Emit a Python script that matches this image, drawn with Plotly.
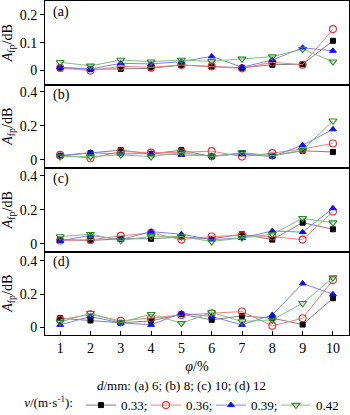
import plotly.graph_objects as go
from plotly.subplots import make_subplots

phi = [1, 2, 3, 4, 5, 6, 7, 8, 9, 10]
speeds = ["0.33;", "0.36;", "0.39;", "0.42"]
panels = ["(a)", "(b)", "(c)", "(d)"]

# panel (a) d=6 mm
a_033 = [0.008, 0.005, 0.006, 0.008, 0.020, 0.016, 0.010, 0.021, 0.023, 0.107]
a_036 = [0.010, 0.000, 0.015, 0.012, 0.020, 0.015, 0.008, 0.030, 0.021, 0.149]
a_039 = [0.012, 0.006, 0.026, 0.024, 0.032, 0.051, 0.012, 0.038, 0.082, 0.071]
a_042 = [0.030, 0.017, 0.038, 0.032, 0.038, 0.033, 0.042, 0.050, 0.077, 0.032]
# panel (b) d=8 mm
b_033 = [0.025, 0.040, 0.058, 0.035, 0.058, 0.020, 0.040, 0.025, 0.054, 0.047]
b_036 = [0.030, 0.010, 0.050, 0.043, 0.045, 0.052, 0.020, 0.040, 0.065, 0.097]
b_039 = [0.025, 0.043, 0.035, 0.038, 0.030, 0.025, 0.035, 0.020, 0.087, 0.180]
b_042 = [0.020, 0.020, 0.030, 0.020, 0.043, 0.020, 0.043, 0.025, 0.058, 0.230]
# panel (c) d=10 mm
c_033 = [0.025, 0.020, 0.030, 0.030, 0.040, 0.030, 0.057, 0.025, 0.125, 0.086]
c_036 = [0.020, 0.024, 0.047, 0.065, 0.025, 0.043, 0.050, 0.043, 0.025, 0.190]
c_039 = [0.018, 0.050, 0.025, 0.072, 0.057, 0.025, 0.035, 0.076, 0.069, 0.210]
c_042 = [0.043, 0.057, 0.020, 0.045, 0.043, 0.014, 0.035, 0.057, 0.150, 0.125]
# panel (d) d=12 mm
d_033 = [0.056, 0.042, 0.028, 0.040, 0.080, 0.046, 0.070, 0.056, 0.018, 0.176]
d_036 = [0.046, 0.080, 0.040, 0.056, 0.075, 0.086, 0.096, 0.010, 0.056, 0.285]
d_039 = [0.016, 0.066, 0.028, 0.016, 0.086, 0.066, 0.016, 0.076, 0.265, 0.200]
d_042 = [0.033, 0.086, 0.030, 0.080, 0.026, 0.090, 0.036, 0.046, 0.146, 0.300]

data = [
    [a_033, a_036, a_039, a_042],
    [b_033, b_036, b_039, b_042],
    [c_033, c_036, c_039, c_042],
    [d_033, d_036, d_039, d_042],
]

line_colors = ["#7f7f7f", "#f08080", "#8080f0", "#80c080"]
marker_styles = [
    dict(symbol="square", size=5, color="black", line=dict(color="black", width=1)),
    dict(symbol="circle-open", size=7, color="#e03030", line=dict(color="#e03030", width=1.1)),
    dict(symbol="triangle-up", size=6, color="#1010e0", line=dict(color="#1010e0", width=1)),
    dict(symbol="triangle-down-open", size=7, color="#2a8a2a", line=dict(color="#2a8a2a", width=1.1)),
]

fig = make_subplots(rows=4, cols=1, shared_xaxes=True, vertical_spacing=0)

for r in range(4):
    for k in range(4):
        fig.add_trace(go.Scatter(
            x=phi, y=data[r][k], mode="lines+markers", name=speeds[k],
            line=dict(color=line_colors[k], width=1),
            marker=marker_styles[k], showlegend=(r == 0),
        ), row=r + 1, col=1)

font_family = "Liberation Serif"
yranges = [[-0.05, 0.25], [-0.047, 0.443], [-0.045, 0.447], [-0.045, 0.457]]
ytickvals = [[0, 0.1, 0.2], [0, 0.2, 0.4], [0, 0.2, 0.4], [0, 0.2, 0.4]]
ytext = [["0", "0.1", "0.2"], ["0", "0.2", "0.4"], ["0", "0.2", "0.4"], ["0", "0.2", "0.4"]]

for r in range(4):
    fig.update_yaxes(
        row=r + 1, col=1, range=yranges[r], tickvals=ytickvals[r], ticktext=ytext[r],
        ticks="outside", ticklen=4, tickcolor="black", showline=True, linecolor="black",
        linewidth=1, mirror=True, showgrid=False, zeroline=False,
        title=dict(text="<i>A</i><sub>fp</sub>/dB", standoff=4, font=dict(size=14, family=font_family)),
        tickfont=dict(size=14, family=font_family),
    )
    fig.update_xaxes(
        row=r + 1, col=1, range=[0.5, 10.53], tickvals=phi,
        ticks="inside" if r == 3 else "", ticklen=4, tickcolor="black",
        showline=True, linecolor="black", linewidth=1, mirror=True,
        showgrid=False, zeroline=False, showticklabels=(r == 3),
        tickfont=dict(size=14, family=font_family),
    )
    fig.add_annotation(
        text=panels[r], xref=f"x{'' if r == 0 else r + 1} domain", yref=f"y{'' if r == 0 else r + 1} domain",
        x=0.02, y=0.99, xanchor="left", yanchor="top", showarrow=False,
        font=dict(size=14, family=font_family),
    )

fig.update_xaxes(row=4, col=1, title=dict(text="<i>φ</i>/%", standoff=6, font=dict(size=14, family=font_family)))

fig.add_annotation(
    text="<i>d</i>/mm: (a) 6; (b) 8; (c) 10; (d) 12", xref="paper", yref="paper",
    x=0.45, y=-0.15, xanchor="center", yanchor="middle", showarrow=False,
    font=dict(size=13, family=font_family),
)

fig.update_layout(
    width=350, height=415,
    margin=dict(l=45, r=1, t=1, b=80, autoexpand=False),
    paper_bgcolor="white", plot_bgcolor="white",
    font=dict(family=font_family, color="black", size=13),
    legend=dict(
        orientation="h", x=-0.075, y=-0.21, xanchor="left", yanchor="middle",
        title=dict(text="<i>v</i>/(m·s<sup>-1</sup>):", side="left", font=dict(size=13, family=font_family)),
        font=dict(size=13, family=font_family), itemwidth=30, tracegroupgap=0,
        entrywidth=20, entrywidthmode="pixels",
        bgcolor="rgba(0,0,0,0)",
    ),
)

fig.write_html("out.html")
